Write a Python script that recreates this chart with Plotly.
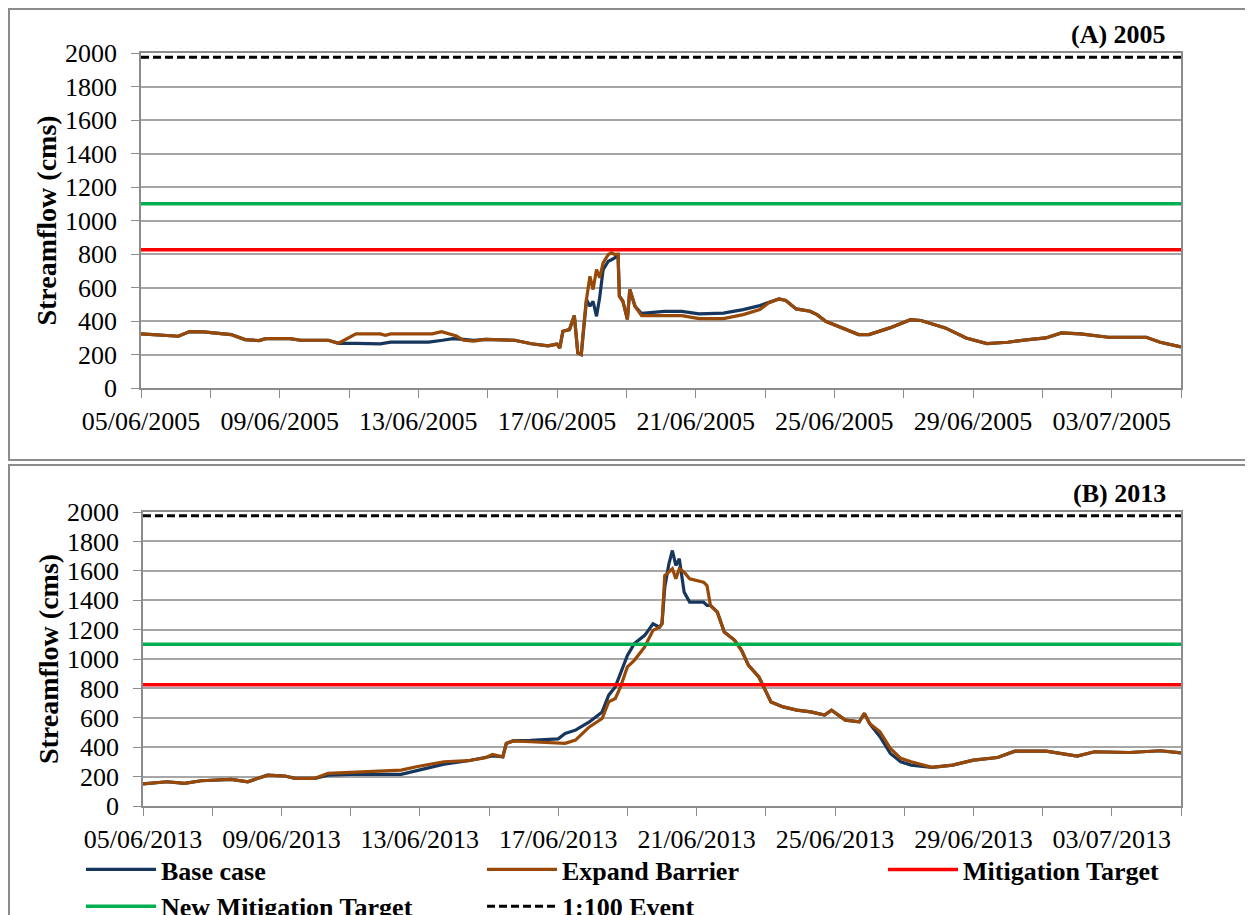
import pandas as pd
import plotly.graph_objects as go

# ---------------- data ----------------
START_2005 = "2005-06-05"
START_2013 = "2013-06-05"
SPAN_DAYS = 30

MITIGATION_TARGET = 825
NEW_MITIGATION_TARGET = 1100
EVENT_100 = 1975

# 2005 - Expand Barrier (days since start, streamflow cms)
days_2005_exp = [0, 0.6, 1.08, 1.4, 1.8, 2.6, 3.0, 3.4, 3.6, 4.3, 4.6, 5.4, 5.7, 6.2, 6.9, 7.05, 7.2,
                 8.4, 8.67, 9.1, 9.3, 9.6, 9.93, 10.78, 11.26, 11.74, 12.0, 12.08, 12.17, 12.36, 12.5,
                 12.6, 12.7, 12.78, 12.85, 12.95, 13.04, 13.14, 13.23, 13.33, 13.48, 13.57, 13.67, 13.76,
                 13.8, 13.9, 14.03, 14.1, 14.25, 14.44, 15.1, 15.6, 16.1, 16.8, 17.37, 17.85, 18.1, 18.4,
                 18.6, 18.9, 19.3, 19.5, 19.75, 20.14, 20.7, 21.0, 21.6, 22.2, 22.5, 23.2, 23.8, 24.4,
                 25.0, 25.6, 26.1, 26.55, 27.1, 27.9, 29.0, 29.4, 30.0]
flow_2005_exp = [323, 315, 309, 337, 335, 319, 289, 283, 295, 295, 285, 285, 267, 323, 323, 315, 323,
                 323, 336, 310, 285, 280, 290, 285, 264, 252, 262, 239, 339, 349, 432,
                 209, 199, 389, 528, 667, 588, 707, 658, 747, 797, 807, 797, 800,
                 548, 518, 409, 588, 488, 432, 432, 432, 414, 414, 438, 468, 508, 532,
                 522, 472, 458, 438, 398, 365, 319, 319, 359, 408, 403, 359, 299, 265,
                 273, 289, 299, 329, 323, 303, 303, 273, 245]

# 2005 - Base case
days_2005_base = [0, 0.6, 1.08, 1.4, 1.8, 2.6, 3.0, 3.4, 3.6, 4.3, 4.6, 5.4, 5.7, 6.2, 6.9, 7.2,
                  8.3, 8.7, 9.0, 9.3, 9.6, 9.93, 10.78, 11.26, 11.74, 12.0, 12.08, 12.17, 12.36, 12.5,
                  12.6, 12.7, 12.78, 12.85, 12.95, 13.04, 13.14, 13.23, 13.33, 13.48, 13.57, 13.67, 13.76,
                  13.8, 13.9, 14.03, 14.1, 14.25, 14.44, 15.1, 15.6, 16.1, 16.8, 17.37, 17.85, 18.1, 18.4,
                  18.6, 18.9, 19.3, 19.5, 19.75, 20.14, 20.7, 21.0, 21.6, 22.2, 22.5, 23.2, 23.8, 24.4,
                  25.0, 25.6, 26.1, 26.55, 27.1, 27.9, 29.0, 29.4, 30.0]
flow_2005_base = [323, 315, 309, 337, 335, 319, 289, 283, 295, 295, 285, 285, 267, 267, 264, 274,
                  274, 285, 295, 290, 285, 290, 285, 264, 252, 262, 239, 339, 349, 432,
                  209, 199, 389, 528, 488, 518, 428, 538, 707, 757, 766, 777, 800,
                  548, 518, 409, 588, 488, 445, 457, 457, 443, 447, 468, 492, 508, 532,
                  522, 472, 458, 438, 398, 365, 319, 319, 359, 408, 403, 359, 299, 265,
                  273, 289, 299, 329, 323, 303, 303, 273, 245]

# 2013 - Expand Barrier
days_2013_exp = [0, 0.2, 0.7, 1.2, 1.68, 2.55, 3.03, 3.6, 4.1, 4.4, 4.97, 5.35, 6.0, 7.46, 7.9, 8.7,
                 9.4, 9.73, 9.9, 10.1, 10.4, 10.5, 10.7, 11.2, 12.0, 12.2, 12.5, 12.9, 13.27, 13.46,
                 13.65, 13.8, 14.0, 14.2, 14.5, 14.74, 14.93, 15.0, 15.08, 15.2, 15.3, 15.4, 15.5,
                 15.64, 15.8, 16.2, 16.3, 16.4, 16.6, 16.8, 17.1, 17.3, 17.5, 17.8, 17.95, 18.15,
                 18.5, 18.9, 19.3, 19.7, 19.9, 20.3, 20.7, 20.85, 21.0, 21.3, 21.6, 21.9, 22.2,
                 22.8, 23.4, 24.0, 24.7, 25.2, 26.1, 27.0, 27.5, 28.5, 29.4, 30.0]
flow_2013_exp = [150, 154, 165, 154, 172, 181, 165, 210, 204, 188, 188, 222, 229, 244, 267, 301,
                 308, 324, 328, 351, 335, 426, 443, 437, 426, 426, 448, 538, 595, 708,
                 731, 810, 946, 991, 1082, 1195, 1217, 1240, 1568, 1591, 1614, 1546, 1614,
                 1591, 1546, 1523, 1500, 1365, 1319, 1183, 1127, 1059, 957, 878, 810, 708,
                 674, 652, 640, 618, 652, 584, 573, 630, 561, 505, 392, 324, 301,
                 263, 278, 312, 330, 373, 373, 339, 369, 364, 376, 362]

# 2013 - Base case
days_2013_base = [0, 0.2, 0.7, 1.2, 1.68, 2.55, 3.03, 3.6, 4.1, 4.4, 4.97, 5.35, 6.0, 7.46, 7.9, 8.7,
                  9.4, 9.73, 9.9, 10.1, 10.4, 10.5, 10.7, 11.2, 12.0, 12.2, 12.5, 12.9, 13.27, 13.46,
                  13.65, 13.8, 14.0, 14.2, 14.5, 14.74, 14.93, 15.0, 15.08, 15.2, 15.3, 15.4, 15.5,
                  15.64, 15.8, 16.2, 16.3, 16.4, 16.6, 16.8, 17.1, 17.3, 17.5, 17.8, 17.95, 18.15,
                  18.5, 18.9, 19.3, 19.7, 19.9, 20.3, 20.7, 20.85, 21.0, 21.3, 21.6, 21.9, 22.2,
                  22.8, 23.4, 24.0, 24.7, 25.2, 26.1, 27.0, 27.5, 28.5, 29.4, 30.0]
flow_2013_base = [150, 154, 165, 154, 172, 181, 165, 210, 204, 188, 188, 210, 215, 215, 240, 285,
                  308, 324, 328, 340, 335, 426, 443, 446, 457, 493, 516, 572, 640, 754,
                  810, 901, 1025, 1105, 1161, 1240, 1217, 1240, 1489, 1648, 1738, 1636, 1682,
                  1455, 1387, 1387, 1365, 1365, 1319, 1183, 1127, 1059, 957, 878, 810, 708,
                  674, 652, 640, 618, 652, 584, 573, 630, 561, 471, 358, 301, 278,
                  263, 278, 312, 330, 373, 373, 339, 369, 364, 376, 362]

SERIES_NAMES = ["Base case", "Expand Barrier", "Mitigation Target", "New Mitigation Target", "1:100 Event"]

# ---------------- styling ----------------
PAGE_OFFSET = 8          # default body margin of the page
W, H = 1253 - PAGE_OFFSET, 915 - PAGE_OFFSET
FONT = "Liberation Serif"
C_BASE = "#17365D"
C_EXP = "#984807"
C_RED = "#FF0000"
C_GREEN = "#00B050"
C_GRID = "#A6A6A6"
C_AXIS = "#8C8C8C"
DAY_MS = 86400000


def dates(start, days):
    return pd.Timestamp(start) + pd.to_timedelta(days, unit="D")


def px_x(v):
    """page pixel -> paper fraction"""
    return (v - PAGE_OFFSET) / W


def px_y(v):
    return 1 - (v - PAGE_OFFSET) / H


fig = go.Figure()

panels = [
    ("x", "y", START_2005, days_2005_base, flow_2005_base, days_2005_exp, flow_2005_exp, False),
    ("x2", "y2", START_2013, days_2013_base, flow_2013_base, days_2013_exp, flow_2013_exp, True),
]

for xa, ya, start, db, fb, de, fe, legend in panels:
    ends = [pd.Timestamp(start), pd.Timestamp(start) + pd.Timedelta(days=SPAN_DAYS)]
    fig.add_trace(go.Scatter(x=dates(start, db), y=fb, mode="lines", name=SERIES_NAMES[0],
                             line=dict(color=C_BASE, width=3.2), xaxis=xa, yaxis=ya,
                             showlegend=legend, legendgroup="base"))
    fig.add_trace(go.Scatter(x=dates(start, de), y=fe, mode="lines", name=SERIES_NAMES[1],
                             line=dict(color=C_EXP, width=3.2), xaxis=xa, yaxis=ya,
                             showlegend=legend, legendgroup="exp"))
    fig.add_trace(go.Scatter(x=ends, y=[MITIGATION_TARGET] * 2, mode="lines", name=SERIES_NAMES[2],
                             line=dict(color=C_RED, width=3.5), xaxis=xa, yaxis=ya,
                             showlegend=legend, legendgroup="mit"))
    fig.add_trace(go.Scatter(x=ends, y=[NEW_MITIGATION_TARGET] * 2, mode="lines", name=SERIES_NAMES[3],
                             line=dict(color=C_GREEN, width=3.5), xaxis=xa, yaxis=ya,
                             showlegend=legend, legendgroup="new"))
    fig.add_trace(go.Scatter(x=ends, y=[EVENT_100] * 2, mode="lines", name=SERIES_NAMES[4],
                             line=dict(color="black", width=3, dash="8px,4px"), xaxis=xa, yaxis=ya,
                             showlegend=legend, legendgroup="evt"))


def xaxis_cfg(start, domain, anchor):
    end = pd.Timestamp(start) + pd.Timedelta(days=SPAN_DAYS)
    return dict(
        domain=domain, anchor=anchor, type="date",
        range=[pd.Timestamp(start), end],
        tick0=pd.Timestamp(start), dtick=4 * DAY_MS, tickformat="%d/%m/%Y",
        ticks="outside", ticklen=8, tickcolor=C_AXIS, tickwidth=1,
        minor=dict(tick0=pd.Timestamp(start), dtick=2 * DAY_MS, ticks="outside", ticklen=8,
                   tickcolor=C_AXIS, tickwidth=1, showgrid=False),
        showgrid=False, showline=True, linecolor=C_AXIS, linewidth=1.5, mirror=True,
        tickfont=dict(family=FONT, size=26, color="black"),
        ticklabelstandoff=1, automargin=False, zeroline=False,
    )


def yaxis_cfg(domain, anchor):
    return dict(
        domain=domain, anchor=anchor, range=[0, 2000], dtick=200, tick0=0,
        ticks="outside", ticklen=8, tickcolor=C_AXIS, tickwidth=1,
        showgrid=True, gridcolor=C_GRID, gridwidth=1.5,
        showline=True, linecolor=C_AXIS, linewidth=1.5, mirror=True,
        tickfont=dict(family=FONT, size=26, color="black"),
        ticklabelstandoff=9, automargin=False, zeroline=False,
        title=dict(text="<b>Streamflow (cms)</b>", font=dict(family=FONT, size=28, color="black"),
                   standoff=0),
    )


fig.update_layout(
    width=W, height=H, autosize=False,
    margin=dict(l=0, r=0, t=0, b=0, autoexpand=False),
    paper_bgcolor="white", plot_bgcolor="white",
    font=dict(family=FONT, size=26, color="black"),
    xaxis=xaxis_cfg(START_2005, [px_x(141), px_x(1181)], "y"),
    yaxis=yaxis_cfg([px_y(388), px_y(53)], "x"),
    xaxis2=xaxis_cfg(START_2013, [px_x(143), px_x(1181)], "y2"),
    yaxis2=yaxis_cfg([px_y(806), px_y(512)], "x2"),
    legend=dict(orientation="h", x=px_x(81), xanchor="left", y=px_y(846), yanchor="top",
                entrywidth=316, entrywidthmode="pixels", itemwidth=70,
                font=dict(family=FONT, size=26, color="black", weight="bold"),
                bgcolor="rgba(0,0,0,0)", tracegroupgap=0, itemsizing="trace"),
    showlegend=True,
    shapes=[
        dict(type="rect", xref="paper", yref="paper", x0=px_x(9), x1=1.01, y0=px_y(460), y1=px_y(9),
             line=dict(color="#8C8C8C", width=2), fillcolor="rgba(0,0,0,0)", layer="below"),
        dict(type="rect", xref="paper", yref="paper", x0=px_x(9), x1=1.01, y0=-0.01, y1=px_y(465),
             line=dict(color="#8C8C8C", width=2), fillcolor="rgba(0,0,0,0)", layer="below"),
    ],
    annotations=[
        dict(text="<b>(A) 2005</b>", xref="paper", yref="paper", x=px_x(1168), y=px_y(35),
             xanchor="right", yanchor="middle", showarrow=False,
             font=dict(family=FONT, size=26, color="black")),
        dict(text="<b>(B) 2013</b>", xref="paper", yref="paper", x=px_x(1168), y=px_y(493),
             xanchor="right", yanchor="middle", showarrow=False,
             font=dict(family=FONT, size=26, color="black")),
    ],
)

fig.write_html("out.html")
